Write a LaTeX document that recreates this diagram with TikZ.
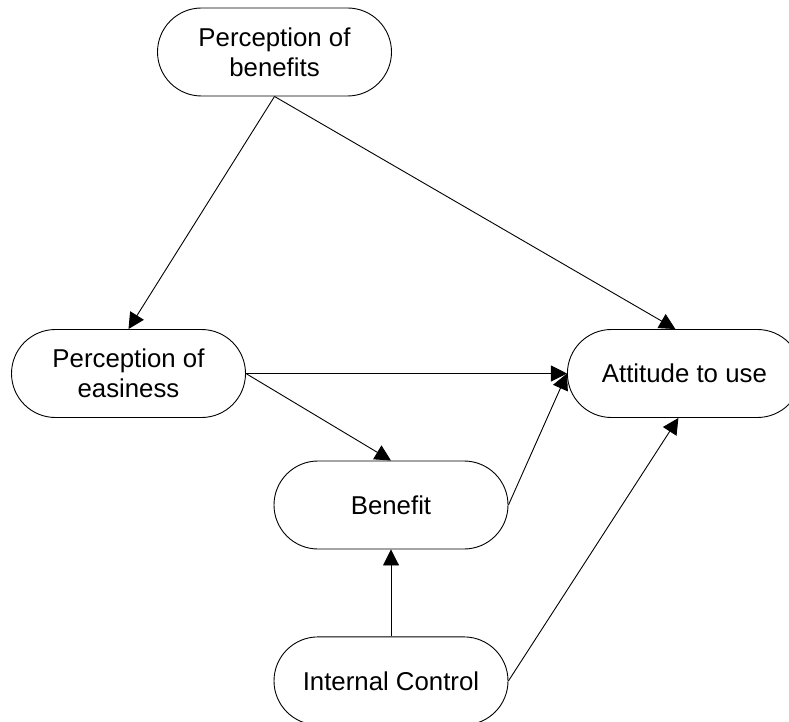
\documentclass[tikz,border=0pt]{standalone}
\usepackage{fontspec}
\setmainfont{Liberation Sans}
\usetikzlibrary{arrows.meta,positioning}

\begin{document}
\begin{tikzpicture}[
    x=1pt,y=-1pt,
    node distance=87pt and 321pt,
    obj/.style={draw,line width=0.9pt,rounded corners=44pt,minimum height=88pt,minimum width=234pt,inner sep=2pt,align=center,font=\fontsize{25.8}{30}\selectfont},
    arr/.style={-{Triangle[length=16pt,width=16pt]},line width=0.9pt}
]
\useasboundingbox (0,0) rectangle (789,722);
\node[obj] (PB) at (274.5,52) {Perception of\\benefits};
\node[obj] (PE) at (128.5,373.5) {Perception of\\easiness};
\node[obj,right=of PE] (AU) {Attitude to use};
\node[obj] (BN) at (391,505) {Benefit};
\node[obj,below=of BN] (IC) {Internal Control};

\draw[arr] (PB.south) -- ([xshift=-9pt]AU.north);
\draw[arr] (PB.south) -- (PE.north);
\draw[arr] (PE.east) -- (AU.west);
\draw[arr] (PE.east) -- (BN.north);
\draw[arr] (BN.east) -- (AU.west);
\draw[arr] (IC.north) -- (BN.south);
\draw[arr] (IC.east) -- ([xshift=-6pt]AU.south);
\end{tikzpicture}
\end{document}
